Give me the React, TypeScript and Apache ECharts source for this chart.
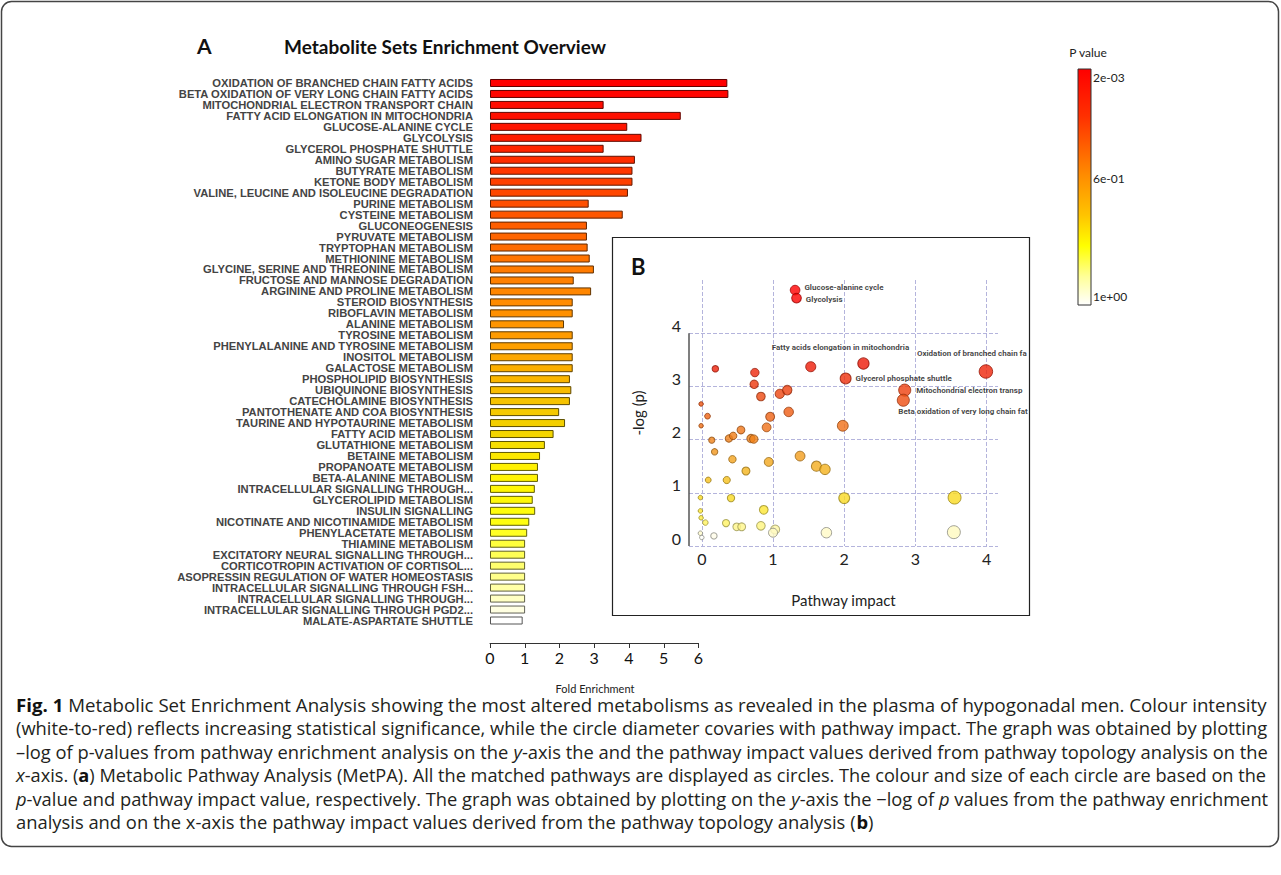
import React, { useEffect, useRef } from 'react';
import * as echarts from 'echarts';

// ---------------- data ----------------
const barCategories = [
  'OXIDATION OF BRANCHED CHAIN FATTY ACIDS',
  'BETA OXIDATION OF VERY LONG CHAIN FATTY ACIDS',
  'MITOCHONDRIAL ELECTRON TRANSPORT CHAIN',
  'FATTY ACID ELONGATION IN MITOCHONDRIA',
  'GLUCOSE-ALANINE CYCLE',
  'GLYCOLYSIS',
  'GLYCEROL PHOSPHATE SHUTTLE',
  'AMINO SUGAR METABOLISM',
  'BUTYRATE METABOLISM',
  'KETONE BODY METABOLISM',
  'VALINE, LEUCINE AND ISOLEUCINE DEGRADATION',
  'PURINE METABOLISM',
  'CYSTEINE METABOLISM',
  'GLUCONEOGENESIS',
  'PYRUVATE METABOLISM',
  'TRYPTOPHAN METABOLISM',
  'METHIONINE METABOLISM',
  'GLYCINE, SERINE AND THREONINE METABOLISM',
  'FRUCTOSE AND MANNOSE DEGRADATION',
  'ARGININE AND PROLINE METABOLISM',
  'STEROID BIOSYNTHESIS',
  'RIBOFLAVIN METABOLISM',
  'ALANINE METABOLISM',
  'TYROSINE METABOLISM',
  'PHENYLALANINE AND TYROSINE METABOLISM',
  'INOSITOL METABOLISM',
  'GALACTOSE METABOLISM',
  'PHOSPHOLIPID BIOSYNTHESIS',
  'UBIQUINONE BIOSYNTHESIS',
  'CATECHOLAMINE BIOSYNTHESIS',
  'PANTOTHENATE AND COA BIOSYNTHESIS',
  'TAURINE AND HYPOTAURINE METABOLISM',
  'FATTY ACID METABOLISM',
  'GLUTATHIONE METABOLISM',
  'BETAINE METABOLISM',
  'PROPANOATE METABOLISM',
  'BETA-ALANINE METABOLISM',
  'INTRACELLULAR SIGNALLING THROUGH...',
  'GLYCEROLIPID METABOLISM',
  'INSULIN SIGNALLING',
  'NICOTINATE AND NICOTINAMIDE METABOLISM',
  'PHENYLACETATE METABOLISM',
  'THIAMINE METABOLISM',
  'EXCITATORY NEURAL SIGNALLING THROUGH...',
  'CORTICOTROPIN ACTIVATION OF CORTISOL...',
  'ASOPRESSIN REGULATION OF WATER HOMEOSTASIS',
  'INTRACELLULAR SIGNALLING THROUGH FSH...',
  'INTRACELLULAR SIGNALLING THROUGH...',
  'INTRACELLULAR SIGNALLING THROUGH PGD2...',
  'MALATE-ASPARTATE SHUTTLE',
];

const foldEnrichment = [
  6.83, 6.86, 3.27, 5.49, 3.95, 4.36, 3.27, 4.17, 4.1, 4.1,
  3.97, 2.84, 3.82, 2.79, 2.79, 2.81, 2.87, 2.99, 2.41, 2.91,
  2.38, 2.38, 2.13, 2.38, 2.38, 2.38, 2.38, 2.3, 2.34, 2.3,
  1.99, 2.16, 1.83, 1.58, 1.44, 1.38, 1.38, 1.29, 1.23, 1.3,
  1.13, 1.07, 1.01, 1.01, 1.01, 1.01, 1.01, 1.01, 1.01, 0.94,
];

const foldTicks = [0, 1, 2, 3, 4, 5, 6];

const pathwayImpact = [
  1.31, 1.33, 3.99, 2.27, 2.02, 2.85, 2.83,
  0.19, 0.745, 0.735, 1.53, 0.83, 1.095, 1.2, -0.01, 1.22, 0.96, 0.08,
  -0.01, 0.91, 1.98, 0.14, 0.38, 0.44, 0.55, 0.69, 0.73, 0.18, 0.43,
  0.94, 0.62, 1.38, 1.61, 1.73, 0.09, 0.35, -0.02, 0.41, 2.0, 0.87,
  -0.02, -0.01, 0.05, 0.34, 0.49, 0.56, 0.83, 1.03, 1.0, 1.75, -0.02,
  0.0, 0.17, 3.55, 3.54,
];

const negLogP = [
  4.81, 4.66, 3.28, 3.43, 3.15, 2.93, 2.74,
  3.33, 3.26, 3.04, 3.37, 2.81, 2.86, 2.93, 2.67, 2.52, 2.43, 2.44,
  2.26, 2.23, 2.26, 1.99, 2.02, 2.07, 2.18, 2.02, 2.01, 1.77, 1.63,
  1.58, 1.41, 1.69, 1.5, 1.44, 1.24, 1.24, 0.91, 0.9, 0.9, 0.68,
  0.66, 0.53, 0.44, 0.43, 0.36, 0.36, 0.38, 0.31, 0.25, 0.25, 0.24,
  0.16, 0.19, 0.91, 0.26,
];

const pathwayNames = [
  'Glucose-alanine cycle',
  'Glycolysis',
  'Oxidation of branched chain fatty acids',
  'Fatty acids elongation in mitochondria',
  'Glycerol phosphate shuttle',
  'Mitochondrial electron transport chain',
  'Beta oxidation of very long chain fatty acids',
];

const impactTicksMax = 4;
const colorbarLabels = ['2e-03', '6e-01', '1e+00'];

// ---------------- helpers ----------------
function hexToRgb(h: string): number[] {
  const s = h.replace('#', '');
  return [0, 2, 4].map((i) => parseInt(s.slice(i, i + 2), 16));
}
function rgbToHex(c: number[]): string {
  return '#' + c.map((v) => Math.max(0, Math.min(255, Math.round(v))).toString(16).padStart(2, '0')).join('');
}
function interp(stops: [number, string][], t: number): string {
  if (t <= stops[0][0]) return stops[0][1];
  for (let i = 1; i < stops.length; i++) {
    if (t <= stops[i][0]) {
      const [t0, c0] = stops[i - 1];
      const [t1, c1] = stops[i];
      const f = (t - t0) / (t1 - t0);
      const a = hexToRgb(c0);
      const b = hexToRgb(c1);
      return rgbToHex(a.map((v, k) => v + (b[k] - v) * f));
    }
  }
  return stops[stops.length - 1][1];
}
function darken(hex: string, k: number): string {
  return rgbToHex(hexToRgb(hex).map((v) => v * k));
}

const barStops: [number, string][] = [
  [0, '#ff0000'], [0.1, '#ff1a00'], [0.2, '#ff4600'], [0.35, '#ff7c00'],
  [0.49, '#ffa000'], [0.57, '#f8bc00'], [0.65, '#f2d400'], [0.71, '#fff000'],
  [0.82, '#ffff10'], [0.9, '#ffff70'], [0.96, '#ffffc4'], [1, '#ffffff'],
];
const pointStops: [number, string][] = [
  [0.15, '#ffffff'], [0.3, '#fff8a8'], [0.5, '#fff040'], [1.0, '#f8d41c'],
  [1.6, '#f2a51e'], [2.1, '#f07a18'], [2.8, '#ee4a10'], [3.4, '#ee1a08'], [4.8, '#ff0000'],
];

const CAP_FAMILY = '"Open Sans"';
const CAP_SIZE = 18;
type Seg = [string, string];
const captionLines: Seg[][] = [
  [['b', 'Fig. 1'], ['n', ' Metabolic Set Enrichment Analysis showing the most altered metabolisms as revealed in the plasma of hypogonadal men. Colour intensity']],
  [['n', '(white-to-red) reflects increasing statistical significance, while the circle diameter covaries with pathway impact. The graph was obtained by plotting']],
  [['n', '\u2013log of p-values from pathway enrichment analysis on the '], ['i', 'y'], ['n', '-axis the and the pathway impact values derived from pathway topology analysis on the']],
  [['i', 'x'], ['n', '-axis. ('], ['b', 'a'], ['n', ') Metabolic Pathway Analysis (MetPA). All the matched pathways are displayed as circles. The colour and size of each circle are based on the']],
  [['i', 'p'], ['n', '-value and pathway impact value, respectively. The graph was obtained by plotting on the '], ['i', 'y'], ['n', '-axis the \u2212log of '], ['i', 'p'], ['n', ' values from the pathway enrichment']],
  [['n', 'analysis and on the x-axis the pathway impact values derived from the pathway topology analysis ('], ['b', 'b'], ['n', ')']],
];

function segFont(kind: string): string {
  return `${kind === 'i' ? 'italic ' : ''}${kind === 'b' ? 'bold ' : ''}${CAP_SIZE}px ${CAP_FAMILY}`;
}

function buildCaption(): any[] {
  const canvas = document.createElement('canvas');
  const ctx = canvas.getContext('2d')!;
  const widths = captionLines.map((segs) =>
    segs.reduce((acc, [k, t]) => {
      ctx.font = segFont(k);
      return acc + ctx.measureText(t).width;
    }, 0)
  );
  const left = 16;
  const right = 1268;
  const target = right - left;
  const scales = widths.map((w) => target / w);
  const avg = scales.slice(0, 5).reduce((a, b) => a + b, 0) / 5;
  const ys = [705, 728.5, 752, 775.5, 799, 822.5];
  return captionLines.map((segs, i) => {
    const text = segs.map(([k, t]) => (k === 'n' ? t : `{${k}|${t}}`)).join('');
    return {
      type: 'text',
      x: left,
      y: ys[i],
      scaleX: i < 5 ? scales[i] : avg,
      z: 10,
      style: {
        text,
        fontFamily: CAP_FAMILY,
        fontSize: CAP_SIZE,
        fill: '#231f20',
        align: 'left',
        verticalAlign: 'middle',
        rich: {
          b: { fontFamily: CAP_FAMILY, fontSize: CAP_SIZE, fontWeight: 'bold', fill: '#111' },
          i: { fontFamily: CAP_FAMILY, fontSize: CAP_SIZE, fontStyle: 'italic', fill: '#231f20' },
        },
      },
    };
  });
}

const labelStyles: Record<string, any> = {
  'Glucose-alanine cycle': { position: 'right', distance: 4, offset: [0, -3] },
  'Glycolysis': { position: 'right', distance: 4, offset: [0, 1] },
  'Fatty acids elongation in mitochondria': { position: 'top', distance: 4, offset: [-23, -2] },
  'Oxidation of branched chain fatty acids': { position: 'top', align: 'left', distance: 5, offset: [-69, -2], width: 112, overflow: 'truncate', ellipsis: '' },
  'Glycerol phosphate shuttle': { position: 'right', distance: 4 },
  'Mitochondrial electron transport chain': { position: 'right', distance: 5, width: 108, overflow: 'truncate', ellipsis: '' },
  'Beta oxidation of very long chain fatty acids': { position: 'bottom', align: 'left', distance: 4, offset: [-5, -3], width: 131, overflow: 'truncate', ellipsis: '' },
};

function buildOption(): any {
  const n = foldEnrichment.length;
  const barData = foldEnrichment.map((v, i) => {
    const c = interp(barStops, i / (n - 1));
    return { value: v, itemStyle: { color: c, borderColor: i === n - 1 ? '#555555' : darken(c, 0.38), borderWidth: 1 } };
  });

  const xMin = -0.18;
  const scatterData = pathwayImpact.map((x, i) => {
    const y = negLogP[i];
    const c = interp(pointStops, y);
    const name = pathwayNames[i] || '';
    const item: any = {
      value: [x, y],
      name,
      itemStyle: { color: c, borderColor: y < 0.3 ? '#8a8a80' : darken(c, 0.62), borderWidth: 1 },
    };
    if (name) {
      item.label = {
        show: true,
        formatter: '{b}',
        fontFamily: 'Roboto',
        fontWeight: 'bold',
        fontSize: 8,
        color: '#111',
        ...labelStyles[name],
      };
    }
    return item;
  });

  const gridLine = { color: '#b4b4dc', width: 1, type: [4, 2] };

  return {
    animation: false,
    backgroundColor: '#ffffff',
    grid: [
      { left: 490, top: 77.5, width: 208.5, height: 548.5 },
      { left: 689, top: 280, width: 309, height: 266 },
    ],
    xAxis: [
      {
        gridIndex: 0,
        type: 'value',
        min: foldTicks[0],
        max: foldTicks[foldTicks.length - 1],
        interval: 1,
        offset: 17,
        axisLine: { show: true, lineStyle: { color: '#333', width: 1 } },
        axisTick: { show: true, length: 5, lineStyle: { color: '#333' } },
        splitLine: { show: false },
        axisLabel: { fontFamily: 'Lato', fontSize: 16, color: '#111', margin: 6 },
      },
      {
        gridIndex: 1,
        type: 'value',
        min: xMin,
        max: 4.16,
        axisLine: { show: false },
        axisTick: { show: false },
        splitLine: { show: true, showMinLine: false, showMaxLine: false, lineStyle: gridLine },
        axisLabel: {
          fontFamily: 'Lato',
          fontSize: 16,
          color: '#222',
          margin: 4,
          formatter: (v: number) => (Number.isInteger(v) && v <= impactTicksMax ? String(v) : ''),
        },
        name: 'Pathway impact',
        nameLocation: 'middle',
        nameGap: 46,
        nameTextStyle: { fontFamily: 'Lato', fontSize: 15, color: '#222' },
      },
    ],
    yAxis: [
      {
        gridIndex: 0,
        type: 'category',
        data: barCategories,
        inverse: true,
        axisLine: { show: false },
        axisTick: { show: false },
        axisLabel: {
          interval: 0,
          margin: 17,
          fontFamily: '"Liberation Sans", Arial',
          fontWeight: 'bold',
          fontSize: 11.2,
          color: '#444',
        },
      },
      {
        gridIndex: 1,
        type: 'value',
        min: 0,
        max: 5,
        interval: 1,
        axisLine: { show: false },
        axisTick: { show: false },
        splitLine: { show: true, showMaxLine: false, lineStyle: gridLine },
        axisLabel: {
          fontFamily: 'Lato',
          fontSize: 16,
          color: '#222',
          margin: 8,
          verticalAlign: 'bottom',
          formatter: (v: number) => (v <= impactTicksMax ? String(v) : ''),
        },
        name: '-log (p)',
        nameLocation: 'middle',
        nameRotate: 90,
        nameGap: 44,
        nameTextStyle: { fontFamily: 'Lato', fontSize: 15, color: '#222' },
      },
    ],
    series: [
      {
        type: 'bar',
        xAxisIndex: 0,
        yAxisIndex: 0,
        data: barData,
        barWidth: 8,
        clip: false,
      },
      {
        type: 'scatter',
        xAxisIndex: 1,
        yAxisIndex: 1,
        data: scatterData,
        clip: false,
        symbolSize: (val: number[]) => 4.5 + 4.5 * Math.sqrt(Math.max(0, val[0])),
        label: { show: false },
        emphasis: { disabled: true },
        markLine: {
          silent: true,
          symbol: ['none', 'none'],
          label: { show: false },
          lineStyle: { color: '#555', width: 1.5, type: 'solid' },
          data: [[{ coord: [xMin, 0] }, { coord: [xMin, impactTicksMax] }]],
        },
      },
    ],
    graphic: [
      {
        type: 'rect',
        shape: { x: 1.5, y: 1.5, width: 1277, height: 845, r: 10 },
        style: { fill: 'none', stroke: '#444', lineWidth: 1.5 },
        silent: true,
      },
      {
        type: 'text', x: 197, y: 45,
        style: { text: 'A', fontFamily: 'Lato', fontWeight: 'bold', fontSize: 21, fill: '#111', align: 'left', verticalAlign: 'middle' },
      },
      {
        type: 'text', x: 445, y: 46,
        style: { text: 'Metabolite Sets Enrichment Overview', fontFamily: 'Lato', fontWeight: 'bold', fontSize: 19, fill: '#111', align: 'center', verticalAlign: 'middle' },
      },
      {
        type: 'text', x: 595, y: 688,
        style: { text: 'Fold Enrichment', fontFamily: 'Lato', fontSize: 11, fill: '#222', align: 'center', verticalAlign: 'middle' },
      },
      {
        type: 'rect',
        shape: { x: 612.5, y: 237.5, width: 417, height: 378 },
        style: { fill: 'none', stroke: '#222', lineWidth: 1.2 },
        silent: true,
      },
      {
        type: 'text', x: 631, y: 266,
        style: { text: 'B', fontFamily: 'Lato', fontWeight: 'bold', fontSize: 22, fill: '#111', align: 'left', verticalAlign: 'middle' },
      },
      {
        type: 'text', x: 1088, y: 52,
        style: { text: 'P value', fontFamily: 'Lato', fontSize: 12, fill: '#222', align: 'center', verticalAlign: 'middle' },
      },
      {
        type: 'rect',
        shape: { x: 1078, y: 69, width: 13, height: 236 },
        style: {
          fill: {
            type: 'linear', x: 0, y: 0, x2: 0, y2: 1,
            colorStops: [
              { offset: 0, color: '#ff0000' },
              { offset: 0.2, color: '#ff3000' },
              { offset: 0.45, color: '#ff8c00' },
              { offset: 0.62, color: '#ffc400' },
              { offset: 0.75, color: '#ffff00' },
              { offset: 0.88, color: '#ffff98' },
              { offset: 1, color: '#ffffff' },
            ],
          },
          stroke: '#333',
          lineWidth: 1,
        },
      },
      ...colorbarLabels.map((t, i) => ({
        type: 'text', x: 1093, y: [77, 178, 296][i],
        style: { text: t, fontFamily: 'Lato', fontSize: 12, fill: '#222', align: 'left', verticalAlign: 'middle' },
      })),
      ...buildCaption(),
    ],
  };
}

export default function App() {
  const ref = useRef<HTMLDivElement>(null);
  useEffect(() => {
    document.body.style.margin = '0';
    const chart = echarts.init(ref.current!, null, { renderer: 'svg' });
    chart.setOption(buildOption());
    return () => chart.dispose();
  }, []);
  return <div ref={ref} style={{ width: 1281, height: 875, background: '#ffffff' }} />;
}
